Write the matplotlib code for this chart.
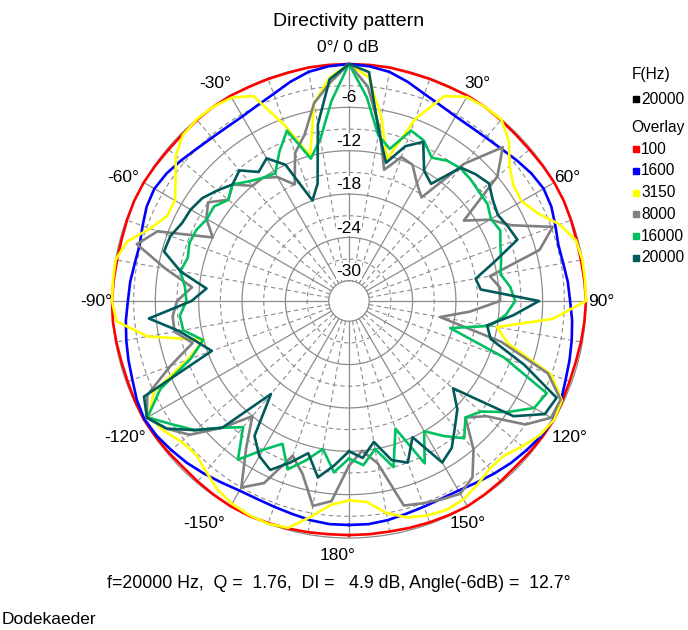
import numpy as np
import matplotlib
matplotlib.use('Agg')
import matplotlib.pyplot as plt
from matplotlib.lines import Line2D

plt.rcParams['font.family'] = ['Liberation Sans', 'DejaVu Sans']

# ---------------- data ----------------
ANGLES = list(range(-180, 180, 5))   # degrees, clockwise from front

F100 = [-0.4, -0.4, -0.3, -0.2, -0.1, 0, 0, -0.1, -0.2, -0.3, -0.2, -0.1, 0, -0.1, -0.2, -0.2, -0.1, 0,
        0, -0.1, -0.2, -0.2, -0.1, 0, 0, -0.1, -0.2, -0.2, -0.1, 0, 0, -0.1, -0.1, -0.1, 0, 0,
        0, 0, 0, -0.1, -0.1, -0.1, 0, 0, -0.1, -0.2, -0.2, -0.1, 0, 0, -0.1, -0.2, -0.2, -0.1,
        0, -0.1, -0.2, -0.3, -0.3, -0.2, 0, -0.1, -0.2, -0.3, -0.2, -0.1, 0, -0.1, -0.2, -0.3, -0.4, -0.4]

F1600 = [-1.8, -1.8, -2.0, -2.3, -2.5, -2.6, -2.5, -2.1, -1.6, -1.1, -0.7, -0.3, -0.1, -0.4, -0.9, -1.2, -1.5, -1.8,
         -2.2, -2.4, -2.7, -2.8, -2.4, -1.9, -1.7, -2.0, -2.5, -3.0, -3.3, -3.4, -3.3, -2.9, -2.3, -1.4, -0.6, -0.2,
         0, -0.2, -0.6, -1.4, -2.3, -2.9, -3.3, -3.4, -3.3, -3.0, -2.5, -2.0, -1.7, -1.9, -2.4, -2.8, -2.7, -2.4,
         -2.2, -1.8, -1.5, -1.2, -0.9, -0.4, -0.1, -0.3, -0.7, -1.1, -1.6, -2.1, -2.5, -2.6, -2.5, -2.3, -2.0, -1.8]

F3150 = [-5.2, -4.5, -2.5, -0.3, 0, -0.1, -0.4, -1.0, -2.0, -2.8, -2.5, -1.5, -0.8, -3.0, -9.0, -12.0, -4.5, -0.5,
         0, 0, 0, -1.0, -3.5, -5.0, -5.0, -3.5, -1.5, -0.3, 0, 0, -0.3, -1.5, -7.0, -12.0, -5.0, -1.8,
         0, -1.7, -7.0, -12.5, -6.0, -1.5, -0.2, 0, 0, -1.5, -3.8, -5.0, -5.2, -4.0, -1.8, -0.3, 0, 0,
         0, -4.5, -12.0, -10.0, -3.0, -0.3, 0, -0.5, -1.5, -2.5, -2.5, -1.8, -1.1, -0.9, -1.2, -1.8, -3.0, -4.9]

F8000 = [-10, -5, -4, -8, -10, -5, -3, -8, -12, -8, -4, -2, -0.5, -2, -6.5, -10.4, -8.3, -8.3,
         -9, -11, -7, -2.4, -4.6, -12, -10, -9, -11, -10, -12, -12, -13, -15, -11, -9, -5, -2.5,
         0, -3, -8.5, -14, -11.6, -12, -14, -15.3, -8, -2.7, -6, -13.4, -10.3, -8, -2.8, -5.5, -13, -11.8,
         -11.9, -16, -20, -11, -3.5, -0.5, -0.5, -3, -8, -10, -6, -3, -2, -2.5, -3, -3.5, -10, -12]

F16000 = [-11, -9, -12, -10, -8, -11, -9, -6, -10, -8, -5, -3, -0.6, -4, -9.5, -11.9, -9.5, -9.3,
          -10.3, -10, -9.1, -9.7, -9.3, -9.5, -10.1, -10, -11, -10, -11.2, -12, -12.4, -10, -7.7, -12.4, -10, -5,
          0, -4.5, -9.5, -11, -7.7, -8.3, -9.9, -9.1, -8.8, -9, -9.3, -9.4, -10.1, -9.7, -10.5, -11, -11.5, -10.4,
          -9.8, -11, -13, -18.3, -10, -2.6, -3.2, -6, -9, -10, -8, -10, -12, -8, -14, -9, -12, -10]

F20000 = [-12, -10, -8, -11, -9, -7, -8, -10, -16, -8, -5, -2, -0.5, -1.5, -12.6, -11, -8.9, -5,
          -11, -13, -9.1, -6.3, -6.5, -7.3, -7.5, -8, -9, -10, -9.2, -11, -10, -12, -18, -16, -8, -2,
          0, -1, -9, -13, -10, -8.5, -12, -13, -8.7, -8, -7.5, -8.5, -9, -8.5, -8, -12, -15, -14.5,
          -6.5, -10, -13.4, -12.5, -7, -1.1, -1.5, -5, -14, -11.6, -10, -8, -7, -12, -9, -10, -13, -11]

SERIES_LABELS = ['100', '1600', '3150', '8000', '16000', '20000']
SERIES_COLORS = ['#FF0000', '#0000FF', '#FFFF00', '#808080', '#00C060', '#005A5A']
SERIES = [F100, F1600, F3150, F8000, F16000, F20000]

RING_LABELS = ['-6', '-12', '-18', '-24', '-30']
RING_VALUES = [-6, -12, -18, -24, -30]

ANGLE_LABELS = ['0°/ 0 dB', '30°', '60°', '90°', '120°', '150°', '180°', '-150°', '-120°', '-90°', '-60°', '-30°']

# ---------------- figure ----------------
W, H = 688, 630
fig = plt.figure(figsize=(W / 100, H / 100), dpi=100)
fig.patch.set_facecolor('white')

cx, cy, R = 349, 301, 237
ax = fig.add_axes([(cx - R) / W, (H - cy - R) / H, 2 * R / W, 2 * R / H], projection='polar')
ax.set_theta_zero_location('N')
ax.set_theta_direction(-1)
ax.set_ylim(-30, 0)
ax.set_rorigin(-32.8)
ax.grid(False)
ax.set_xticks([])
ax.set_yticks([])
ax.set_facecolor('white')
ax.spines['polar'].set_color('#8c8c8c')
ax.spines['polar'].set_linewidth(0.9)
ax.spines['inner'].set_color('#8c8c8c')
ax.spines['inner'].set_linewidth(0.9)

GRID = '#8c8c8c'
th = np.linspace(0, 2 * np.pi, 721)
for r in [-6, -12, -18, -24]:
    ax.plot(th, np.full_like(th, r), color=GRID, lw=0.9, zorder=1)
for r in [-3, -9, -15, -21, -27]:
    ax.plot(th, np.full_like(th, r), color=GRID, lw=0.8, ls=(0, (4, 3)), zorder=1)
for a in range(0, 360, 10):
    t = np.deg2rad(a)
    if a % 30 == 0:
        ax.plot([t, t], [-30, 0], color=GRID, lw=0.9, zorder=1)
    else:
        ax.plot([t, t], [-30, 0], color=GRID, lw=0.8, ls=(0, (4, 3)), zorder=1)

# ring labels along 0 deg
for lab, rv in zip(RING_LABELS, RING_VALUES):
    ax.text(0, rv + 1.3, lab, ha='center', va='center', fontsize=12.5, zorder=3,
            bbox=dict(facecolor='white', edgecolor='none', pad=0.5))

# data
theta = np.deg2rad(ANGLES + [ANGLES[0]])
for vals, col in zip(SERIES, SERIES_COLORS):
    ax.plot(theta, vals + [vals[0]], color=col, lw=1.9, zorder=5, clip_on=False)

# angle labels (pixel centres)
ang_pos = [(348, 48), (477, 84), (567, 177), (601, 301), (570, 437), (468, 523), (338, 555),
           (204, 523), (125, 437), (96, 301), (123, 177), (215, 84)]
for lab, (x, y) in zip(ANGLE_LABELS, ang_pos):
    fig.text(x / W, 1 - y / H, lab, ha='center', va='center', fontsize=12.5)

fig.text(349 / W, 1 - 21 / H, 'Directivity pattern', ha='center', va='center', fontsize=14)
fig.text(339 / W, 1 - 584 / H, 'f=20000 Hz,  Q =  1.76,  DI =   4.9 dB, Angle(-6dB) =  12.7°',
         ha='center', va='center', fontsize=12.8)
fig.text(2 / W, 1 - 620 / H, 'Dodekaeder', ha='left', va='center', fontsize=12.5)

# legend
LFS = 11.2
fig.text(632 / W, 1 - 75 / H, 'F(Hz)', ha='left', va='center', fontsize=LFS)
def legend_item(y, col, lab):
    fig.add_artist(Line2D([636 / W], [1 - y / H], marker='s', markersize=4.5, color=col, ls='none',
                          transform=fig.transFigure))
    fig.text(641 / W, 1 - y / H, lab, ha='left', va='center', fontsize=LFS)
legend_item(99, '#000000', '20000')
fig.text(631 / W, 1 - 128 / H, 'Overlay', ha='left', va='center', fontsize=LFS)
for i, (lab, col) in enumerate(zip(SERIES_LABELS, SERIES_COLORS)):
    legend_item(149 + i * 21.8, col, lab)

fig.savefig('out.png', dpi=100, facecolor='white')
